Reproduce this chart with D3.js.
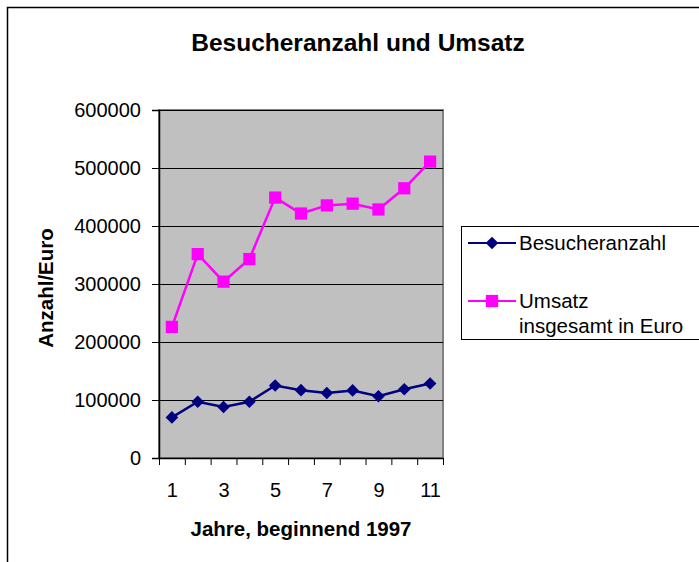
<!DOCTYPE html>
<html>
<head>
<meta charset="utf-8">
<script src="https://cdn.jsdelivr.net/npm/d3@7"></script>
<style>
  body { margin: 0; background: #fff; }
  svg { display: block; font-family: "Liberation Sans", Arial, sans-serif; }
</style>
</head>
<body>
<div id="chart"></div>
<script>
// values
var years = [1, 2, 3, 4, 5, 6, 7, 8, 9, 10, 11];
var besucher = [70000, 97000, 88000, 97000, 125000, 117000, 112000, 116500, 106500, 118500, 128500];
var umsatz = [226000, 351500, 304000, 343000, 449000, 421500, 435500, 438500, 428500, 465000, 511000];
var yTicks = [0, 100000, 200000, 300000, 400000, 500000, 600000];
var xLabels = [1, 3, 5, 7, 9, 11];

var width = 699, height = 562;
var plot = { left: 159, right: 443, top: 110, bottom: 458 };

var svg = d3.select('#chart').append('svg')
  .attr('width', width)
  .attr('height', height);

// chart frame (runs off the right and bottom edge)
svg.append('rect')
  .attr('x', 7.5).attr('y', 7.5)
  .attr('width', 800).attr('height', 700)
  .attr('fill', 'none').attr('stroke', '#000').attr('stroke-width', 1.5);

svg.append('text')
  .attr('x', 358).attr('y', 51)
  .attr('text-anchor', 'middle')
  .attr('font-size', 24.5).attr('font-weight', 'bold')
  .text('Besucheranzahl und Umsatz');

var x = d3.scaleLinear()
  .domain([0.5, 11.5])
  .range([plot.left, plot.right]);

var y = d3.scaleLinear()
  .domain([0, 600000])
  .range([plot.bottom, plot.top]);

// plot area
svg.append('rect')
  .attr('x', plot.left).attr('y', plot.top)
  .attr('width', plot.right - plot.left).attr('height', plot.bottom - plot.top)
  .attr('fill', '#c0c0c0').attr('stroke', '#808080').attr('stroke-width', 2);

svg.append('g')
  .selectAll('line')
  .data(yTicks.slice(1))
  .enter().append('line')
  .attr('x1', plot.left).attr('x2', plot.right)
  .attr('y1', function(d) { return Math.round(y(d)) + 0.5; })
  .attr('y2', function(d) { return Math.round(y(d)) + 0.5; })
  .attr('stroke', '#000');

// y axis
var yAxis = svg.append('g')
  .attr('transform', 'translate(' + plot.left + ',0)')
  .call(d3.axisLeft(y).tickValues(yTicks).tickFormat(d3.format('d')).tickSize(7).tickPadding(11))
  .attr('font-family', null).attr('font-size', 20);
yAxis.select('.domain').attr('stroke', '#000').attr('stroke-width', 1.5);
yAxis.selectAll('text').attr('fill', '#000');

// x axis: ticks on category boundaries, labels on every second year
var xAxis = svg.append('g')
  .attr('transform', 'translate(0,' + plot.bottom + ')')
  .call(d3.axisBottom(x).tickValues(d3.range(0.5, 12, 1)).tickFormat('').tickSize(7).tickSizeOuter(0));
xAxis.select('.domain').attr('stroke', '#000').attr('stroke-width', 1.5);

var xLab = svg.append('g')
  .attr('transform', 'translate(0,' + plot.bottom + ')')
  .call(d3.axisBottom(x).tickValues(xLabels).tickSize(0).tickPadding(25))
  .attr('font-family', null).attr('font-size', 20);
xLab.select('.domain').remove();
xLab.selectAll('text').attr('fill', '#000');

svg.append('text')
  .attr('x', 301).attr('y', 536)
  .attr('text-anchor', 'middle')
  .attr('font-size', 20.5).attr('font-weight', 'bold')
  .text('Jahre, beginnend 1997');

svg.append('text')
  .attr('transform', 'translate(53,' + ((plot.top + plot.bottom) / 2 + 4) + ') rotate(-90)')
  .attr('text-anchor', 'middle')
  .attr('font-size', 20.5).attr('font-weight', 'bold')
  .text('Anzahl/Euro');

// series
var line = d3.line()
  .x(function(d, i) { return x(years[i]); })
  .y(function(d) { return y(d); });

var square = d3.symbol().type(d3.symbolSquare);

var series = [
  { name: 'Besucheranzahl', values: besucher, color: '#000080', size: 80, rotate: 45 },
  { name: 'Umsatz insgesamt in Euro', values: umsatz, color: '#ff00ff', size: 150, rotate: 0 }
];

series.forEach(function(s) {
  svg.append('path')
    .attr('d', line(s.values))
    .attr('fill', 'none')
    .attr('stroke', s.color)
    .attr('stroke-width', 2.5);

  svg.append('g')
    .selectAll('path')
    .data(s.values)
    .enter().append('path')
    .attr('transform', function(d, i) {
      return 'translate(' + x(years[i]) + ',' + y(d) + ') rotate(' + s.rotate + ')';
    })
    .attr('d', square.size(s.size)())
    .attr('fill', s.color);
});

// legend
var legend = svg.append('g');
legend.append('rect')
  .attr('x', 461.5).attr('y', 226.5)
  .attr('width', 300).attr('height', 113)
  .attr('fill', '#fff').attr('stroke', '#000');

var legendRows = [
  { s: series[0], y: 243, lines: ['Besucheranzahl'] },
  { s: series[1], y: 301, lines: ['Umsatz', 'insgesamt in Euro'] }
];

legendRows.forEach(function(r) {
  legend.append('line')
    .attr('x1', 468).attr('x2', 516)
    .attr('y1', r.y).attr('y2', r.y)
    .attr('stroke', r.s.color).attr('stroke-width', 2);
  legend.append('path')
    .attr('transform', 'translate(492,' + r.y + ') rotate(' + r.s.rotate + ')')
    .attr('d', square.size(r.s.size)())
    .attr('fill', r.s.color);
  var t = legend.append('text')
    .attr('x', 519).attr('y', r.y + 7)
    .attr('font-size', 20.5);
  r.lines.forEach(function(l, i) {
    t.append('tspan').attr('x', 519).attr('dy', i ? 25 : 0).text(l);
  });
});
</script>
</body>
</html>
